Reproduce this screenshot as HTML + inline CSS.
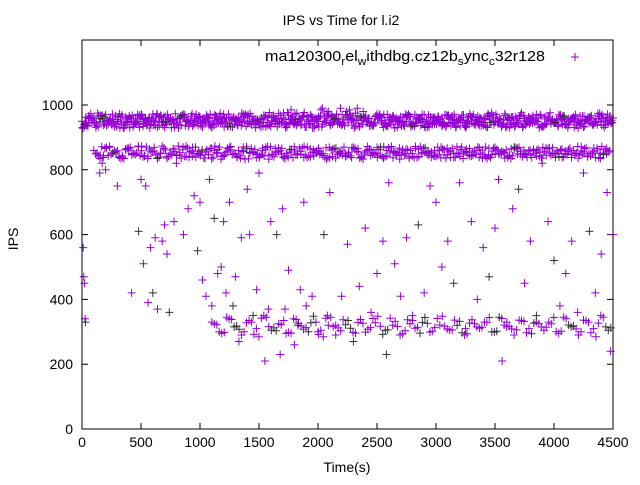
<!DOCTYPE html>
<html><head><meta charset="utf-8"><style>
body{margin:0;background:#fff}
svg text{font-family:"Liberation Sans",sans-serif;fill:#000}
</style></head><body>
<svg width="640" height="480" viewBox="0 0 640 480" xmlns="http://www.w3.org/2000/svg">
<text x="341" y="25" font-size="14" text-anchor="middle">IPS vs Time for l.i2</text>
<text transform="translate(18,239) rotate(-90)" font-size="14" text-anchor="middle">IPS</text>
<text x="347" y="472" font-size="14" text-anchor="middle">Time(s)</text>
<g>
<text x="265" y="61" font-size="15" textLength="280" lengthAdjust="spacingAndGlyphs">ma120300<tspan font-size="11" dy="4">r</tspan><tspan dy="-4">el</tspan><tspan font-size="11" dy="4">w</tspan><tspan dy="-4">ithdbg.cz12b</tspan><tspan font-size="11" dy="4">s</tspan><tspan dy="-4">ync</tspan><tspan font-size="11" dy="4">c</tspan><tspan dy="-4">32r128</tspan></text>
<path d="M571,57h8M575,53v8" stroke="#9400d3" stroke-width="1"/>
</g>
<g id="axes"></g>
<g id="marks"></g>
<rect x="82" y="40" width="531" height="389" fill="none" stroke="#000" stroke-width="1"/>
</svg>
<script>
const xTicks=[0,500,1000,1500,2000,2500,3000,3500,4000,4500];
const yTicks=[0,200,400,600,800,1000];
const topA=[950,935,962,948,970,941,955,928,966,944,958,937,972,949,931,960,945,968,952,939,963,947,930,957,971,942,953,936,965,950,944,961,934,958,947,969,940,955,932,962,949,975,943,956,938,967,951,933,960,946,972,941,954,929,964,948,937,958,970,945,952,935,966,943,957,931,961,950,939,968,947,955,934,963,941,959,946,971,936,953,944,965,938,957,949,932,962,945,958,950,960];
const topB=[940,958,931,966,952,945,973,938,957,949,934,962,947,968,940,955,929,963,950,971,943,958,936,965,948,953,939,970,945,957,932,961,951,974,942,956,937,964,949,930,960,946,968,941,955,985,975,962,948,936,967,953,940,959,945,972,934,957,950,939,965,943,956,931,962,948,970,937,954,946,963,940,958,933,969,951,944,961,938,976,947,955,930,964,942,953,967,939,957,948,955];
const topC=[962,946,975,938,953,967,942,958,933,964,950,940,969,945,957,931,961,948,973,937,955,944,966,951,935,960,947,972,941,956,934,963,949,968,939,954,946,977,943,959,932,965,950,941,970,955,990,980,958,944,961,938,967,952,935,964,947,971,940,957,949,933,962,945,969,942,955,936,966,951,945,973,939,958,931,963,947,968,941,953,934,962,949,970,943,956,938,965,951,944,948];
const midA=[860,845,868,852,838,862,849,871,843,857,835,866,851,844,870,855,839,861,847,873,842,858,850,836,865,853,841,869,848,856,834,863,846,872,840,859,851,837,867,845,854,866,839,861,848,870,843,857,833,864,850,841,868,855,846,862,838,871,852,844,859,836,866,849,857,842,870,847,838,863,854,845,868,840,858,851,836,865,849,861,847];
const midB=[850,838,872,855,843,866,848,859,835,869,852,840,864,846,873,842,857,836,867,851,845,862,839,870,854,847,860,833,866,849,843,871,856,838,862,847,868,841,855,850,838,865,852,844,869,836,858,849,863,840,872,853,845,860,837,867,850,842,864,855,839,870,846,859,852,835,866,848,861,843,869,851,838,864,856,845,858,840,867,852,849];
const lowA=[330,300,345,315,290,335,310,350,305,325,295,340,318,300,330,285,345,312,322,298,338,308,328,292,342,316,303,335,296,326,313,348,305,320,290,337,311,329,299,341,317,306,332,294,325,314,344,302,321,309,336,297,327,315];
const scatterT=[10,15,20,25,30,150,170,200,300,420,480,500,520,540,560,580,600,620,640,680,700,720,740,780,800,860,900,950,980,1000,1020,1050,1080,1100,1120,1150,1180,1200,1220,1250,1280,1300,1330,1350,1400,1420,1450,1480,1500,1550,1580,1600,1650,1680,1700,1720,1750,1800,1830,1850,1880,1900,1950,2000,2050,2080,2100,2150,2200,2250,2300,2350,2400,2450,2500,2550,2580,2600,2650,2700,2750,2800,2850,2900,2950,3000,3050,3100,3150,3200,3250,3300,3350,3400,3450,3500,3530,3560,3600,3650,3700,3750,3800,3850,3900,3950,4000,4050,4100,4150,4200,4250,4300,4350,4400,4450,4480,4500];
const scatterV=[560,470,450,340,330,790,820,800,750,420,610,770,510,750,390,560,420,590,370,580,630,540,360,640,820,600,680,720,550,700,460,410,770,380,650,480,500,640,420,700,380,470,270,590,740,600,350,430,790,210,370,640,600,230,680,370,490,260,320,430,700,380,410,300,600,350,730,320,410,570,270,440,620,360,480,580,230,760,510,410,590,350,630,420,750,700,500,580,450,760,310,640,400,560,470,620,770,210,330,680,740,450,580,330,820,640,520,380,480,580,360,790,610,420,540,730,240,600];
const xs=t=>82+t/4500*531, ys=v=>429-v/1000*324;
const NS='http://www.w3.org/2000/svg';
const ax=document.getElementById('axes'), mk=document.getElementById('marks');
xTicks.forEach(t=>{const x=xs(t);
 const p=document.createElementNS(NS,'path');p.setAttribute('d',`M${x},429v-6M${x},40v6`);p.setAttribute('stroke','#000');
 
 ax.appendChild(p);
 const l=document.createElementNS(NS,'text');l.setAttribute('x',x);l.setAttribute('y',447);l.setAttribute('font-size','14');l.setAttribute('text-anchor','middle');l.textContent=t;
 
 ax.appendChild(l);});
yTicks.forEach(v=>{const y=ys(v);
 const p=document.createElementNS(NS,'path');p.setAttribute('d',`M82,${y}h6M613,${y}h-6`);p.setAttribute('stroke','#000');
 
 ax.appendChild(p);
 const l=document.createElementNS(NS,'text');l.setAttribute('x',73);l.setAttribute('y',y+5);l.setAttribute('font-size','14');l.setAttribute('text-anchor','end');l.textContent=v;
 
 ax.appendChild(l);});
let d='',dk='';
function plus(t,v,dark){if(t>4500)return;const s=`M${(xs(t)-4).toFixed(1)},${ys(v).toFixed(1)}h8M${xs(t).toFixed(1)},${(ys(v)-4).toFixed(1)}v8`;if(dark)dk+=s;else d+=s;}
function layer(arr,start,step,shift,darkMod){const n=arr.length;arr.forEach((_,i)=>plus(start+i*step,arr[(i+shift)%n],darkMod&&i%darkMod==3));}
[0,8,4].forEach((o,k)=>{
 layer(topA,o,50,k*7,k==1?11:0);
 layer(topB,o+17,50,k*5,0);
 layer(topC,o+33,50,k*3,k==2?13:0);
});
[0,14,27].forEach((o,k)=>{
 layer(midA,100+o,54,k*6,k==0?7:0);
 layer(midB,125+o,54,k*4,0);
});
[0,21,42].forEach((o,k)=>layer(lowA,1100+o,63,k*9,5));
scatterT.forEach((t,i)=>plus(t,scatterV[i],i%6==4));
const p1=document.createElementNS(NS,'path');p1.setAttribute('d',d);p1.setAttribute('stroke','#9400d3');p1.setAttribute('fill','none');

mk.appendChild(p1);
const p2=document.createElementNS(NS,'path');p2.setAttribute('d',dk);p2.setAttribute('stroke','#333');p2.setAttribute('fill','none');

mk.appendChild(p2);
</script>
</body></html>
